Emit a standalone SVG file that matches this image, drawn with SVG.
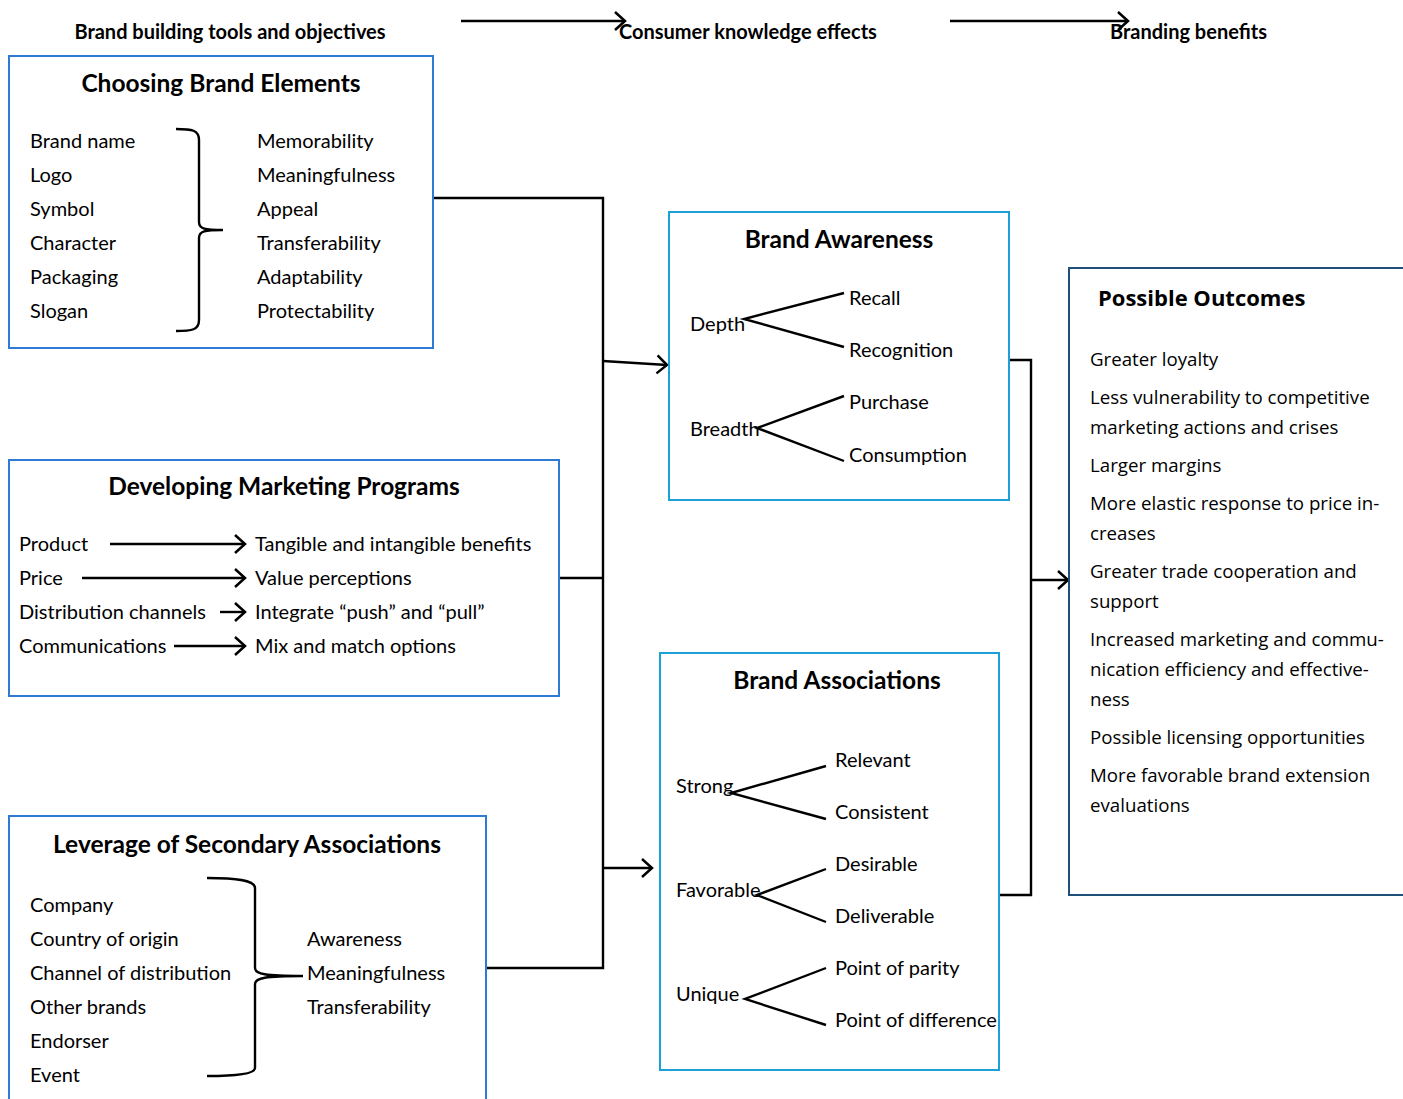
<svg xmlns="http://www.w3.org/2000/svg" width="1403" height="1099" viewBox="0 0 1403 1099">
<defs>
<marker id="arr" markerWidth="14" markerHeight="22" refX="12" refY="10" orient="auto" markerUnits="userSpaceOnUse">
<path d="M2,1 L12,10 L2,19" fill="none" stroke="#000" stroke-width="2.5"/>
</marker>
<style>
.t{font-family:Lato,"Open Sans",sans-serif;font-size:20px;fill:#000}
.h{font-family:Lato,"Open Sans",sans-serif;font-size:20px;font-weight:bold;fill:#000}
.ti{font-family:Lato,"Open Sans",sans-serif;font-size:24.5px;font-weight:bold;fill:#000;text-anchor:middle}
.o{font-family:"Open Sans",sans-serif;font-size:18.7px;fill:#000}
.ot{font-family:"Open Sans",sans-serif;font-size:22px;font-weight:bold;fill:#000}
.b1{fill:#fff;stroke:#2E7BD6;stroke-width:2}
.b2{fill:#fff;stroke:#1CA0D8;stroke-width:2}
.b3{fill:#fff;stroke:#1F4E79;stroke-width:2}
.ln{fill:none;stroke:#000;stroke-width:2.4}
</style>
</defs>
<rect width="1403" height="1099" fill="#fff"/>

<g id="header">
<text class="h" x="230" y="39" text-anchor="middle">Brand building tools and objectives</text>
<line class="ln" x1="461" y1="21" x2="625" y2="21" marker-end="url(#arr)"/>
<text class="h" x="619" y="39">Consumer knowledge effects</text>
<line class="ln" x1="950" y1="21" x2="1128" y2="21" marker-end="url(#arr)"/>
<text class="h" x="1110" y="39">Branding benefits</text>
</g>

<g id="connectors">
<polyline class="ln" points="433,198 603,198 603,968 486,968"/>
<line class="ln" x1="559" y1="578" x2="603" y2="578"/>
<line class="ln" x1="603" y1="361" x2="667" y2="365" marker-end="url(#arr)"/>
<line class="ln" x1="603" y1="868" x2="652" y2="868" marker-end="url(#arr)"/>
<polyline class="ln" points="1009,360 1031,360 1031,895 993,895"/>
<line class="ln" x1="1031" y1="580" x2="1068" y2="580" marker-end="url(#arr)"/>
</g>

<g id="choosing-brand-elements">
<rect class="b1" x="9" y="56" width="424" height="292"/>
<text class="ti" x="221" y="92">Choosing Brand Elements</text>
<text class="t" x="30" y="148">Brand name</text>
<text class="t" x="30" y="182">Logo</text>
<text class="t" x="30" y="216">Symbol</text>
<text class="t" x="30" y="250">Character</text>
<text class="t" x="30" y="284">Packaging</text>
<text class="t" x="30" y="318">Slogan</text>
<path class="ln" d="M176,129 C192,129 199,130 199,140 L199,222 C199,229 205,230 223,230 C205,230 199,231 199,238 L199,320 C199,330 192,331 176,331"/>
<text class="t" x="257" y="148">Memorability</text>
<text class="t" x="257" y="182">Meaningfulness</text>
<text class="t" x="257" y="216">Appeal</text>
<text class="t" x="257" y="250">Transferability</text>
<text class="t" x="257" y="284">Adaptability</text>
<text class="t" x="257" y="318">Protectability</text>
</g>

<g id="developing-marketing-programs">
<rect class="b1" x="9" y="460" width="550" height="236"/>
<text class="ti" x="284" y="495">Developing Marketing Programs</text>
<text class="t" x="19" y="551">Product</text>
<text class="t" x="19" y="585">Price</text>
<text class="t" x="19" y="619">Distribution channels</text>
<text class="t" x="19" y="653">Communications</text>
<line class="ln" x1="110" y1="544" x2="245" y2="544" marker-end="url(#arr)"/>
<line class="ln" x1="82" y1="578" x2="245" y2="578" marker-end="url(#arr)"/>
<line class="ln" x1="220" y1="612" x2="245" y2="612" marker-end="url(#arr)"/>
<line class="ln" x1="174" y1="646" x2="245" y2="646" marker-end="url(#arr)"/>
<text class="t" x="255" y="551">Tangible and intangible benefits</text>
<text class="t" x="255" y="585">Value perceptions</text>
<text class="t" x="255" y="619">Integrate “push” and “pull”</text>
<text class="t" x="255" y="653">Mix and match options</text>
</g>

<g id="leverage-secondary-associations">
<rect class="b1" x="9" y="816" width="477" height="300"/>
<text class="ti" x="247" y="853">Leverage of Secondary Associations</text>
<text class="t" x="30" y="912">Company</text>
<text class="t" x="30" y="946">Country of origin</text>
<text class="t" x="30" y="980">Channel of distribution</text>
<text class="t" x="30" y="1014">Other brands</text>
<text class="t" x="30" y="1048">Endorser</text>
<text class="t" x="30" y="1082">Event</text>
<path class="ln" d="M207,878 C235,878 255,880 255,888 L255,968 C255,974 265,976 303,976 C265,976 255,978 255,984 L255,1068 C255,1074 235,1076 207,1076"/>
<text class="t" x="307" y="946">Awareness</text>
<text class="t" x="307" y="980">Meaningfulness</text>
<text class="t" x="307" y="1014">Transferability</text>
</g>

<g id="brand-awareness">
<rect class="b2" x="669" y="212" width="340" height="288"/>
<text class="ti" x="839" y="248">Brand Awareness</text>
<text class="t" x="690" y="331">Depth</text>
<polyline class="ln" points="844,293 744,319 844,347"/>
<text class="t" x="849" y="305">Recall</text>
<text class="t" x="849" y="357">Recognition</text>
<text class="t" x="690" y="436">Breadth</text>
<polyline class="ln" points="844,396 757,428 844,461"/>
<text class="t" x="849" y="409">Purchase</text>
<text class="t" x="849" y="462">Consumption</text>
</g>

<g id="brand-associations">
<rect class="b2" x="660" y="653" width="339" height="417"/>
<text class="ti" x="837" y="689">Brand Associations</text>
<text class="t" x="676" y="793">Strong</text>
<polyline class="ln" points="826,766 731,793 826,819"/>
<text class="t" x="835" y="767">Relevant</text>
<text class="t" x="835" y="819">Consistent</text>
<text class="t" x="676" y="897">Favorable</text>
<polyline class="ln" points="826,869 757,895 826,922"/>
<text class="t" x="835" y="871">Desirable</text>
<text class="t" x="835" y="923">Deliverable</text>
<text class="t" x="676" y="1001">Unique</text>
<polyline class="ln" points="826,968 745,999 826,1025"/>
<text class="t" x="835" y="975">Point of parity</text>
<text class="t" x="835" y="1027">Point of difference</text>
</g>

<g id="possible-outcomes">
<rect class="b3" x="1069" y="268" width="350" height="627"/>
<text class="ot" x="1098" y="306">Possible Outcomes</text>
<text class="o" x="1090" y="366">Greater loyalty</text>
<text class="o" x="1090" y="404">Less vulnerability to competitive</text>
<text class="o" x="1090" y="434">marketing actions and crises</text>
<text class="o" x="1090" y="472">Larger margins</text>
<text class="o" x="1090" y="510">More elastic response to price in-</text>
<text class="o" x="1090" y="540">creases</text>
<text class="o" x="1090" y="578">Greater trade cooperation and</text>
<text class="o" x="1090" y="608">support</text>
<text class="o" x="1090" y="646">Increased marketing and commu-</text>
<text class="o" x="1090" y="676">nication efficiency and effective-</text>
<text class="o" x="1090" y="706">ness</text>
<text class="o" x="1090" y="744">Possible licensing opportunities</text>
<text class="o" x="1090" y="782">More favorable brand extension</text>
<text class="o" x="1090" y="812">evaluations</text>
</g>
</svg>
